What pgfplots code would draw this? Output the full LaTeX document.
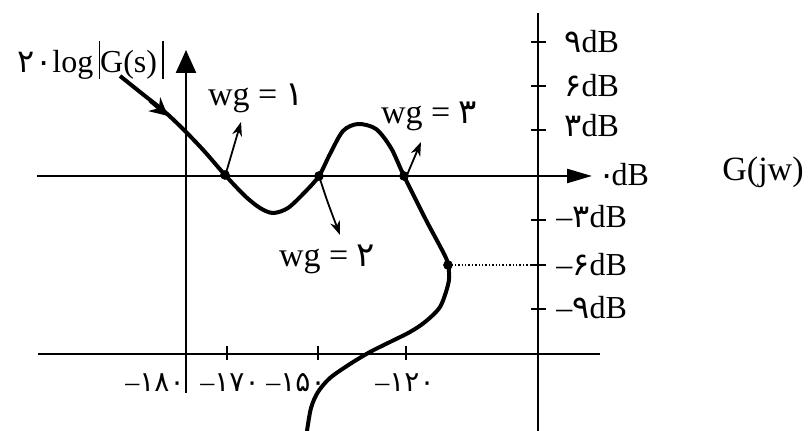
\documentclass[border=0pt]{standalone}
\usepackage{fontspec}
\setmainfont{Liberation Serif}
\newfontfamily\fa{DejaVu Sans}
\usepackage{pgfplots}
\pgfplotsset{compat=1.18}
\usetikzlibrary{arrows.meta}

% picture drawn in pixel units of the 809x431 reference (x right, y up)
\newcommand\fs{\fontsize{16}{19}\selectfont}
\newcommand\fsw{\fontsize{17}{20}\selectfont}
\newcommand\fss{\fontsize{14}{16}\selectfont}
\newcommand\vbar{\rule[-3pt]{0.8pt}{19pt}}
\tikzset{
  ax/.style={black, line width=1.2pt},
  ann/.style={black, line width=0.9pt, -{Stealth[length=7pt,width=5pt]}},
}

\begin{document}
\begin{tikzpicture}
\begin{axis}[
  scale only axis, width=404.5pt, height=215.5pt,
  xmin=0, xmax=809, ymin=0, ymax=431,
  hide axis, clip=false,
]
  \coordinate (SW) at (rel axis cs:0,0);
  \coordinate (NE) at (rel axis cs:1,1);

  % axis lines
  \addplot[ax, -{Triangle[length=11.5pt,width=10pt]}] coordinates {(186,38) (186,381)};
  \addplot[ax, -{Triangle[length=12.5pt,width=7pt]}] coordinates {(37,255) (592,255)};
  \addplot[ax] coordinates {(538,0) (538,418)};
  \addplot[ax] coordinates {(38,77) (600,77)};

  % tick marks (drawn as error bars)
  \addplot[draw=none, error bars/.cd, x dir=both, x fixed=7.5, error mark=none,
    error bar style={black, line width=0.9pt}]
    coordinates {(538.5,389) (538.5,345) (538.5,301) (538.5,211) (538.5,166) (538.5,122)};
  \addplot[draw=none, error bars/.cd, y dir=both, y fixed=7, error mark=none,
    error bar style={black, line width=0.9pt}]
    coordinates {(227,78) (318,78) (406,78)};

  % -6 dB guide
  \addplot[black, line width=0.7pt, densely dotted] coordinates {(448,166) (538,166)};

  % Nichols curve
  \addplot[black, line width=2pt, smooth, tension=0.5] coordinates {
    (120,355) (140,339) (165,319) (186,299) (205,279) (225,256)
    (245,235) (260,223) (273,218) (288,223) (305,239) (319,255)
    (330,277) (343,300) (358,307) (376,302) (391,283) (404,255)
    (426,211) (446,173) (449,159) (448,146) (440,124) (425,109)
    (410,99) (390,89) (370,79) (350,67) (330,53) (318,39) (311,23) (307,0)
  };
  \addplot[black, line width=2pt, -{Stealth[length=9pt,width=9pt,inset=3pt]}]
    coordinates {(150,330.5) (168,315)};

  % crossing points
  \addplot[only marks, mark=*, mark size=2.2pt, black]
    coordinates {(225,256) (319,255) (404,255) (448,166)};

  % wg annotations
  \addplot[ann] coordinates {(226,258) (241,309)};
  \addplot[ann, smooth] coordinates {(319,255) (328,228) (340,196)};
  \addplot[ann] coordinates {(407,256) (421,289)};

  \node[font=\fs] at (axis cs:91,371) {{\fa ۲۰}log\,\vbar G(s)\,\vbar};
  \node[font=\fsw] at (axis cs:256,333) {wg = {\fa ۱}};
  \node[font=\fsw] at (axis cs:327,172) {wg = {\fa ۲}};
  \node[font=\fsw] at (axis cs:429,315) {wg = {\fa ۳}};

  \node[font=\fs, anchor=west, inner sep=0pt] at (axis cs:564,389) {{\fa ۹}dB};
  \node[font=\fs, anchor=west, inner sep=0pt] at (axis cs:564,345) {{\fa ۶}dB};
  \node[font=\fs, anchor=west, inner sep=0pt] at (axis cs:564,305) {{\fa ۳}dB};
  \node[font=\fs, anchor=west, inner sep=0pt] at (axis cs:598,256) {{\fa ۰}\kern-2pt dB};
  \node[font=\fs, anchor=west, inner sep=0pt] at (axis cs:556,214) {–{\fa ۳}dB};
  \node[font=\fs, anchor=west, inner sep=0pt] at (axis cs:556,166) {–{\fa ۶}dB};
  \node[font=\fs, anchor=west, inner sep=0pt] at (axis cs:556,123) {–{\fa ۹}dB};
  \node[font=\fontsize{17}{20}\selectfont] at (axis cs:763,259) {G(jw)};

  \node[font=\fss] at (axis cs:155,48) {–{\fa ۱۸۰}};
  \node[font=\fss] at (axis cs:230,48) {–{\fa ۱۷۰}};
  \node[font=\fss] at (axis cs:296,48) {–{\fa ۱۵۰}};
  \node[font=\fss] at (axis cs:405,48) {–{\fa ۱۲۰}};
\end{axis}
\pgfresetboundingbox
\path[use as bounding box] (SW) rectangle (NE);
\end{tikzpicture}
\end{document}
